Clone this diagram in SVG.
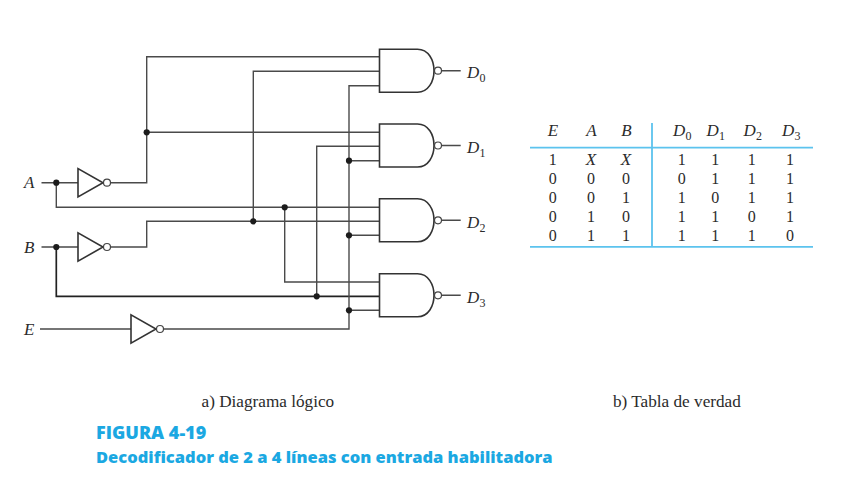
<svg xmlns="http://www.w3.org/2000/svg" width="842" height="489" viewBox="0 0 842 489">
<style>
.w{fill:none;stroke:#4a4a4a;stroke-width:1.4}
.h{fill:none;stroke:#222;stroke-width:1.7}
.g{fill:#fff;stroke:#333;stroke-width:1.6}
.b{fill:#fff;stroke:#444;stroke-width:1.2}
.d{fill:#1c1c1c}
.l{fill:none;stroke:#5cc3ee;stroke-width:1.8}
text{font-family:"Liberation Serif",serif;fill:#2b2b2b}
.i{font-style:italic;font-size:17px}
.s{font-size:12px}
.c{font-size:17.200px}
.f{font-family:"Open Sans","Noto Sans",sans-serif;font-weight:800;fill:#1ba8e2}
</style>
<defs>
<path id="nand" class="g" d="M0 0H38C49 0 54.500 11 54.500 21.500C54.500 32 49 43 38 43H0Z"/>
<path id="inv" class="g" d="M0 -14.200V14.200L25 0Z"/>
</defs>
<rect width="842" height="489" fill="#fff"/>
<g id="connectors">
<path class="w" d="M41.500 182.700H78M110.500 182.700H146.700V56.700H379.500"/>
<path class="w" d="M146.700 132.300H379.500"/>
<path class="w" d="M56.300 182.700V207.300H379.500"/>
<path class="w" d="M284.700 207.300V282H379.500"/>
<path class="w" d="M41.500 247H78M110.500 247H146.700V221.300H379.500"/>
<path class="w" d="M253.300 221.300V71.300H379.500"/>
<path class="h" d="M56.300 247V296.300H379.500"/>
<path class="w" d="M316.700 296.300V146.300H379.500"/>
<path class="w" d="M40 329H131M163.500 329H349V85.700H379.500"/>
<path class="w" d="M349 160.700H379.500M349 235.300H379.500M349 310.300H379.500"/>
<path class="w" d="M441.500 70.700H460.700M441.500 145.500H460.700M441.500 220.300H460.700M441.500 295.300H460.700"/>
<circle class="d" cx="56.300" cy="182.700" r="3.100"/>
<circle class="d" cx="56.300" cy="247" r="3.100"/>
<circle class="d" cx="146.700" cy="132.300" r="3.100"/>
<circle class="d" cx="253.300" cy="221.300" r="3.100"/>
<circle class="d" cx="284.700" cy="207.300" r="3.100"/>
<circle class="d" cx="316.700" cy="296.300" r="3.100"/>
<circle class="d" cx="349" cy="160.700" r="3.100"/>
<circle class="d" cx="349" cy="235.300" r="3.100"/>
<circle class="d" cx="349" cy="310.300" r="3.100"/>
</g>
<g id="input-A"><text class="i" x="24" y="188">A</text></g>
<g id="input-B"><text class="i" x="24" y="253">B</text></g>
<g id="input-E"><text class="i" x="24" y="335">E</text></g>
<g id="not-A"><use href="#inv" x="78" y="182.700"/><circle class="b" cx="107" cy="182.700" r="3.500"/></g>
<g id="not-B"><use href="#inv" x="78" y="247"/><circle class="b" cx="107" cy="247" r="3.500"/></g>
<g id="not-E"><use href="#inv" x="131" y="329"/><circle class="b" cx="160" cy="329" r="3.500"/></g>
<g id="nand-D0"><use href="#nand" x="379.500" y="49.200"/><circle class="b" cx="438" cy="70.700" r="3.500"/><text class="i" x="467" y="78">D</text><text class="s" x="479.500" y="82">0</text></g>
<g id="nand-D1"><use href="#nand" x="379.500" y="124"/><circle class="b" cx="438" cy="145.500" r="3.500"/><text class="i" x="467" y="153">D</text><text class="s" x="479.500" y="157">1</text></g>
<g id="nand-D2"><use href="#nand" x="379.500" y="198.800"/><circle class="b" cx="438" cy="220.300" r="3.500"/><text class="i" x="467" y="228">D</text><text class="s" x="479.500" y="232">2</text></g>
<g id="nand-D3"><use href="#nand" x="379.500" y="273.800"/><circle class="b" cx="438" cy="295.300" r="3.500"/><text class="i" x="467" y="303">D</text><text class="s" x="479.500" y="307">3</text></g>
<g id="truth-table">
<path class="l" d="M530 147.700H813M530 246.800H813M652 123V246.800"/>
<text class="i" text-anchor="middle" x="553" y="136">E</text><text class="i" text-anchor="middle" x="591.500" y="136">A</text><text class="i" text-anchor="middle" x="626.500" y="136">B</text>
<text class="i" x="673" y="136">D</text><text class="s" x="685.500" y="140">0</text>
<text class="i" x="706.500" y="136">D</text><text class="s" x="719" y="140">1</text>
<text class="i" x="743.500" y="136">D</text><text class="s" x="756" y="140">2</text>
<text class="i" x="782" y="136">D</text><text class="s" x="794.500" y="140">3</text>
<g style="font-size:16px;text-anchor:middle">
<text x="552.700" y="164.500">1</text><text class="i" x="591" y="164.500">X</text><text class="i" x="626" y="164.500">X</text><text x="681.700" y="164.500">1</text><text x="715.300" y="164.500">1</text><text x="751.700" y="164.500">1</text><text x="790" y="164.500">1</text>
<text x="552.700" y="183.500">0</text><text x="591" y="183.500">0</text><text x="626" y="183.500">0</text><text x="681.700" y="183.500">0</text><text x="715.300" y="183.500">1</text><text x="751.700" y="183.500">1</text><text x="790" y="183.500">1</text>
<text x="552.700" y="202.500">0</text><text x="591" y="202.500">0</text><text x="626" y="202.500">1</text><text x="681.700" y="202.500">1</text><text x="715.300" y="202.500">0</text><text x="751.700" y="202.500">1</text><text x="790" y="202.500">1</text>
<text x="552.700" y="221.500">0</text><text x="591" y="221.500">1</text><text x="626" y="221.500">0</text><text x="681.700" y="221.500">1</text><text x="715.300" y="221.500">1</text><text x="751.700" y="221.500">0</text><text x="790" y="221.500">1</text>
<text x="552.700" y="240.500">0</text><text x="591" y="240.500">1</text><text x="626" y="240.500">1</text><text x="681.700" y="240.500">1</text><text x="715.300" y="240.500">1</text><text x="751.700" y="240.500">1</text><text x="790" y="240.500">0</text>
</g>
</g>
<text class="c" x="201.500" y="407">a) Diagrama lógico</text>
<text class="c" x="613" y="407">b) Tabla de verdad</text>
<text class="f" x="96" y="439.300" font-size="18">FIGURA 4-19</text>
<text class="f" x="96" y="463" font-size="16.500">Decodificador de 2 a 4 líneas con entrada habilitadora</text>
</svg>
